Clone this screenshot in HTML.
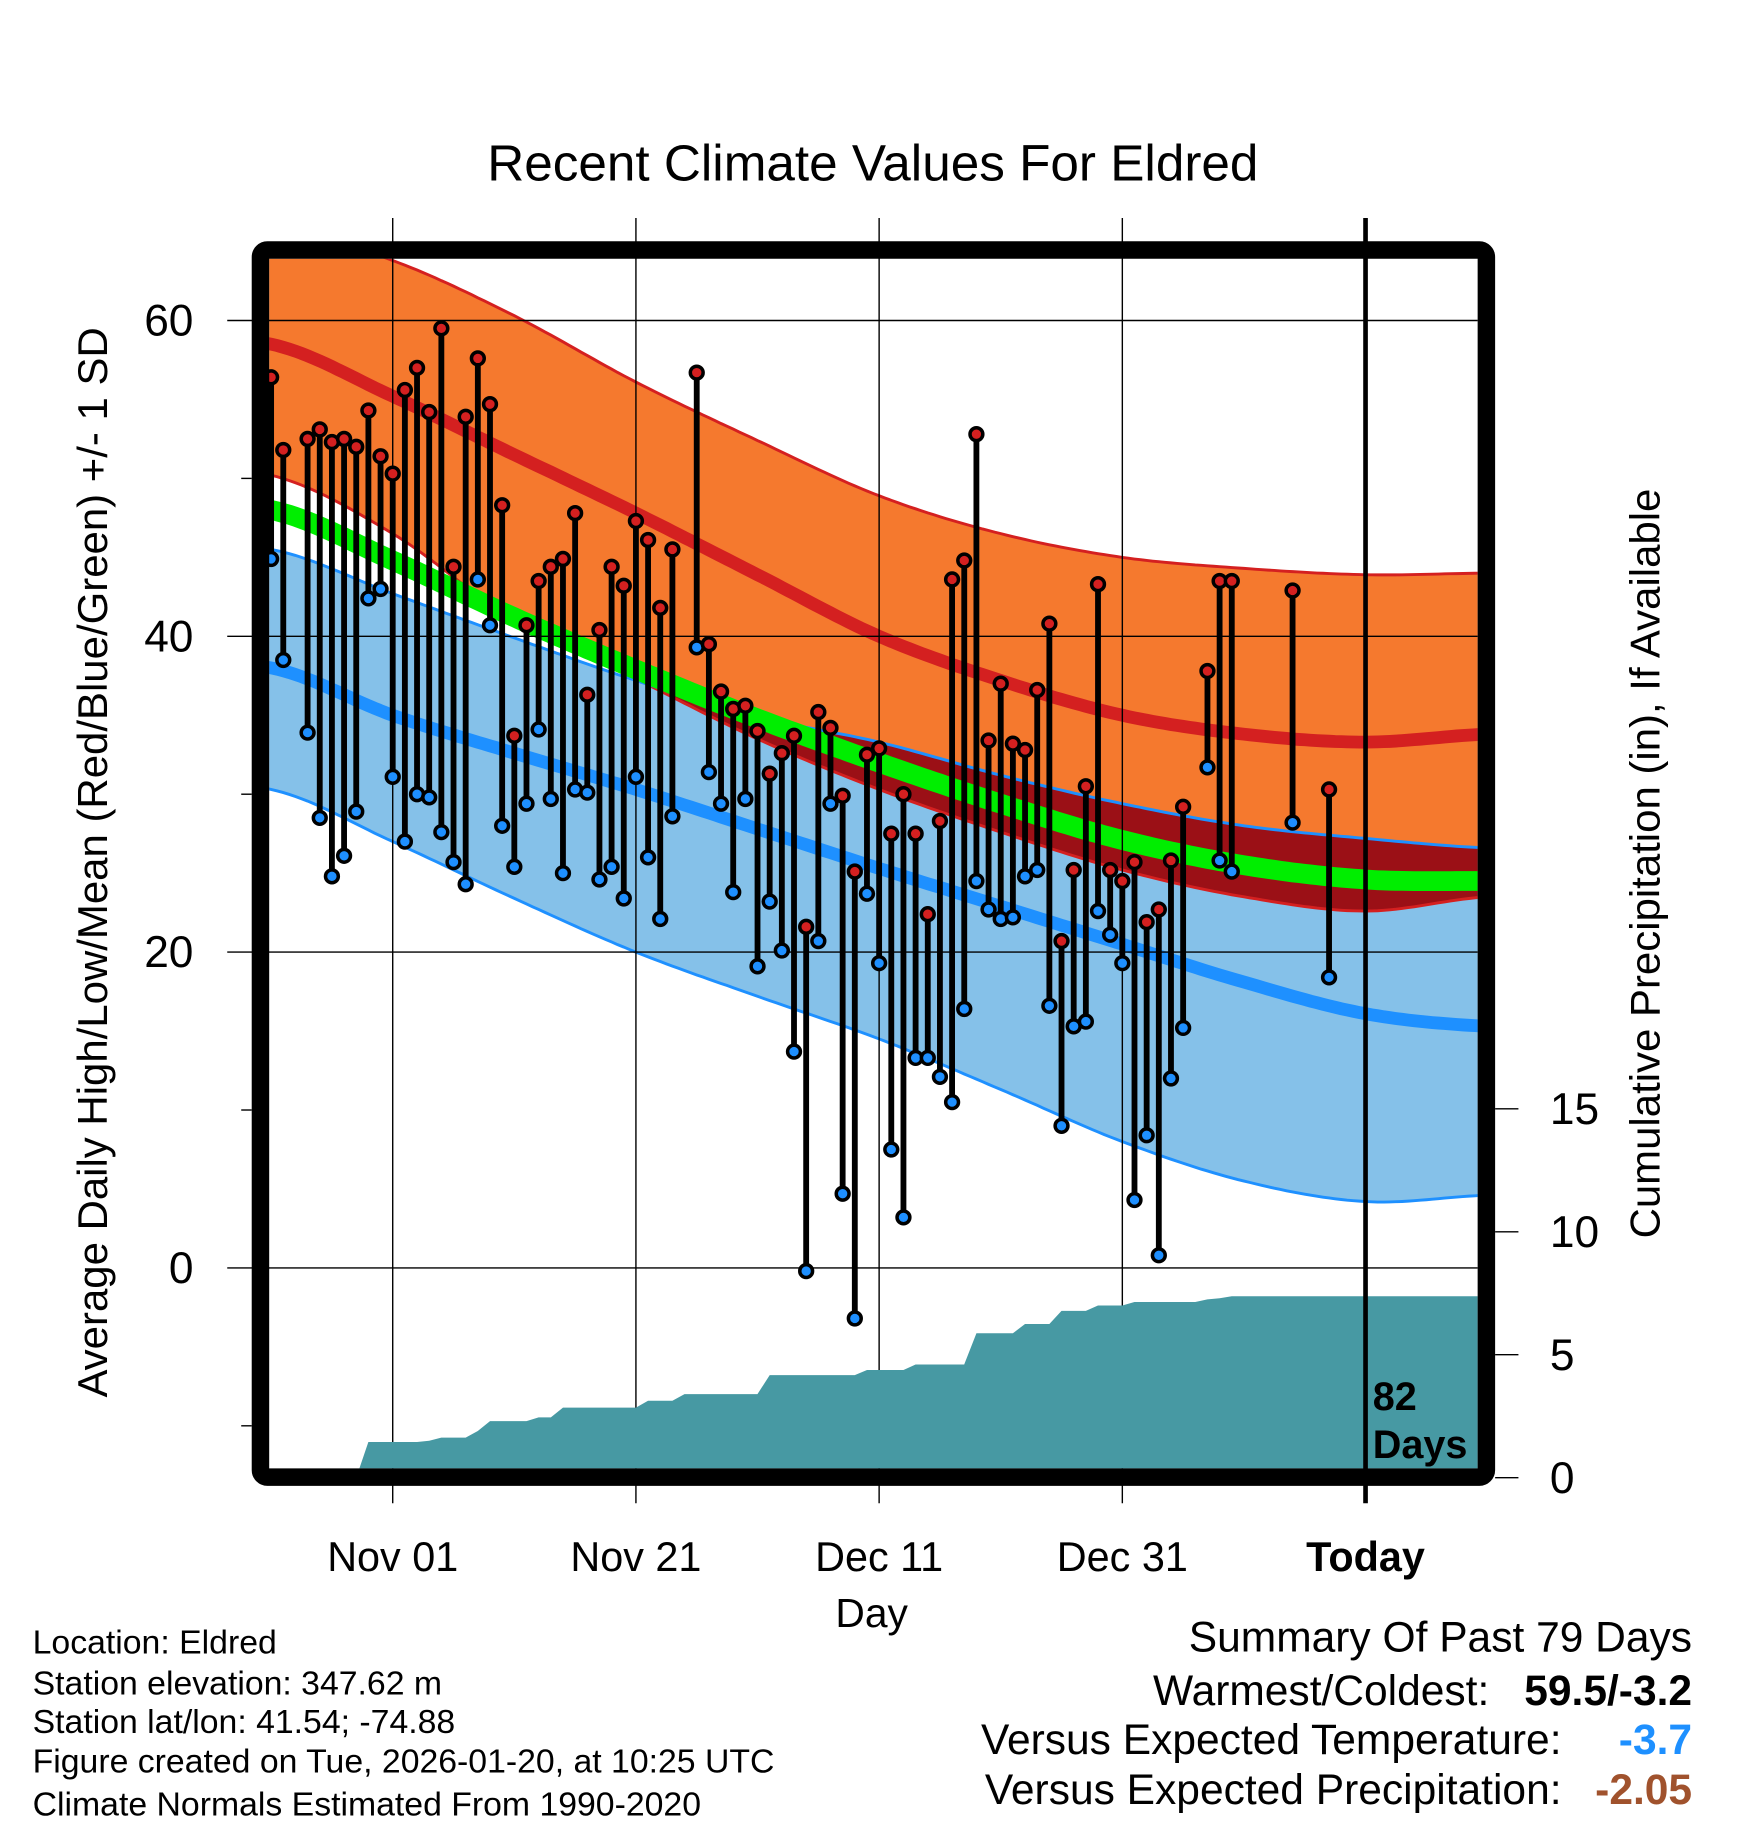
<!DOCTYPE html>
<html><head><meta charset="utf-8"><style>
html,body{margin:0;padding:0;background:#fff}
svg{display:block}
text{font-family:"Liberation Sans",sans-serif}
</style></head><body>
<svg id="chart" width="1748" height="1828" viewBox="0 0 1500 1568.6" xmlns="http://www.w3.org/2000/svg">
<defs><clipPath id="plotclip"><rect x="231" y="222" width="1037" height="1038"/></clipPath></defs>
<rect width="1500" height="1568.6" fill="#fff"/>
<text x="749" y="155" font-size="44" text-anchor="middle">Recent Climate Values For Eldred</text>
<g id="bands" clip-path="url(#plotclip)"></g>
<g id="grid"></g>
<g id="precip" clip-path="url(#plotclip)"></g>
<g id="sticks"></g>
<g id="axes"></g>
<rect x="223.5" y="214.5" width="1052" height="1053" rx="6" fill="none" stroke="#000" stroke-width="15"/>
<text x="1178" y="1210" font-size="34" font-weight="bold">82</text>
<text x="1178" y="1251" font-size="34" font-weight="bold">Days</text>
<text transform="translate(92,740) rotate(-90)" font-size="36" text-anchor="middle">Average Daily High/Low/Mean (Red/Blue/Green) +/- 1 SD</text>
<text transform="translate(1424,741) rotate(-90)" font-size="36" text-anchor="middle">Cumulative Precipitation (in), If Available</text>
<text x="748" y="1396" font-size="35" text-anchor="middle">Day</text>
<g font-size="29">
<text x="28" y="1419">Location: Eldred</text>
<text x="28" y="1454">Station elevation: 347.62 m</text>
<text x="28" y="1487">Station lat/lon: 41.54; -74.88</text>
<text x="28" y="1521">Figure created on Tue, 2026-01-20, at 10:25 UTC</text>
<text x="28" y="1558">Climate Normals Estimated From 1990-2020</text>
</g>
<g font-size="36.5">
<text x="1452" y="1417" text-anchor="end">Summary Of Past 79 Days</text>
<text x="1278" y="1463" text-anchor="end">Warmest/Coldest:</text>
<text x="1452" y="1463" text-anchor="end" font-weight="bold">59.5/-3.2</text>
<text x="1340" y="1505" text-anchor="end">Versus Expected Temperature:</text>
<text x="1452" y="1505" text-anchor="end" font-weight="bold" fill="#1E90FF">-3.7</text>
<text x="1340" y="1548" text-anchor="end">Versus Expected Precipitation:</text>
<text x="1452" y="1548" text-anchor="end" font-weight="bold" fill="#A0522D">-2.05</text>
</g>
</svg>
<script>
// ---- data ----
const normDays = [-10,0,10,20,30,40,50,60,70,80,90];
const highPlusSD = [66,63.8,60.3,56.1,52.4,48.9,46.5,45.0,44.3,43.9,44.0];
const meanHigh   = [58.5,55.2,51.5,47.8,43.9,40.0,37.2,35.0,33.8,33.3,33.8];
const highMinusSD= [50.2,46.5,41.0,37.3,33.5,30.3,27.6,25.2,23.5,22.6,23.5];
const lowPlusSD  = [45.5,42.7,39.9,37.2,34.9,33.3,31.2,29.4,28.0,27.2,26.6];
const meanAvg    = [48.0,44.8,41.2,37.9,34.8,32.0,29.4,27.1,25.5,24.6,24.5];
const meanLow    = [38.0,35.0,32.6,30.3,27.8,25.3,22.9,20.5,18.1,16.1,15.3];
const lowMinusSD = [30.3,27.0,23.4,20.0,17.2,14.5,11.3,8.0,5.5,4.2,4.6];

const obsDays = [-10,-9,-7,-6,-5,-4,-3,-2,-1,0,1,2,3,4,5,6,7,8,9,10,11,12,13,14,15,16,17,18,19,20,21,22,23,25,26,27,28,29,30,31,32,33,34,35,36,37,38,39,40,41,42,43,44,45,46,47,48,49,50,51,52,53,54,55,56,57,58,59,60,61,62,63,64,65,67,68,69,74,77];
const obsHigh = [56.4,51.8,52.5,53.1,52.3,52.5,52.0,54.3,51.4,50.3,55.6,57.0,54.2,59.5,44.4,53.9,57.6,54.7,48.3,33.7,40.7,43.5,44.4,44.9,47.8,36.3,40.4,44.4,43.2,47.3,46.1,41.8,45.5,56.7,39.5,36.5,35.4,35.6,34.0,31.3,32.6,33.7,21.6,35.2,34.2,29.9,25.1,32.5,32.9,27.5,30.0,27.5,22.4,28.3,43.6,44.8,52.8,33.4,37.0,33.2,32.8,36.6,40.8,20.7,25.2,30.5,43.3,25.2,24.5,25.7,21.9,22.7,25.8,29.2,37.8,43.5,43.5,42.9,30.3];
const obsLow = [44.9,38.5,33.9,28.5,24.8,26.1,28.9,42.4,43.0,31.1,27.0,30.0,29.8,27.6,25.7,24.3,43.6,40.7,28.0,25.4,29.4,34.1,29.7,25.0,30.3,30.1,24.6,25.4,23.4,31.1,26.0,22.1,28.6,39.3,31.4,29.4,23.8,29.7,19.1,23.2,20.1,13.7,-0.2,20.7,29.4,4.7,-3.2,23.7,19.3,7.5,3.2,13.3,13.3,12.1,10.5,16.4,24.5,22.7,22.1,22.2,24.8,25.2,16.6,9.0,15.3,15.6,22.6,21.1,19.3,4.3,8.4,0.8,12.0,15.2,31.7,25.8,25.1,28.2,18.4];

const precipDays = [-10,-3,-2,2,3,4,6,7,8,11,12,13,14,20,21,23,24,30,31,38,39,42,43,47,48,51,52,54,55,57,58,60,61,66,67,68,69,80,90];
const precipCum  = [0,0,1.45,1.45,1.5,1.63,1.63,1.9,2.3,2.3,2.45,2.45,2.85,2.85,3.13,3.13,3.4,3.4,4.17,4.17,4.38,4.38,4.6,4.6,5.87,5.87,6.25,6.25,6.78,6.78,7.0,7.0,7.14,7.14,7.25,7.3,7.38,7.38,7.38];

const yTicks = [60,40,20,0];
const yMinor = [50,30,10,-10];
const pTicks = [0,5,10,15];
const xTickDays = [0,20,40,60,80];
const xTickLabels = ["Nov 01","Nov 21","Dec 11","Dec 31","Today"];

// ---- axes ----
const xS = d => 337 + d*10.435;
const yS = v => 1088 - v*13.55;
const pS = p => 1268 - p*21.1;
const NS = "http://www.w3.org/2000/svg";
function mk(tag, attrs, parent){const e=document.createElementNS(NS,tag);for(const k in attrs)e.setAttribute(k,attrs[k]);parent.appendChild(e);return e;}

function interp(arr, d){
  let i=0; while(i<normDays.length-2 && d>normDays[i+1]) i++;
  const p0=arr[Math.max(i-1,0)],p1=arr[i],p2=arr[i+1],p3=arr[Math.min(i+2,arr.length-1)];
  const t=(d-normDays[i])/(normDays[i+1]-normDays[i]);
  return 0.5*((2*p1)+(-p0+p2)*t+(2*p0-5*p1+4*p2-p3)*t*t+(-p0+3*p1-3*p2+p3)*t*t*t);
}
const samp=[]; for(let d=-11; d<=90; d+=0.5) samp.push(d);
const curve = arr => samp.map(d=>[xS(d), yS(interp(arr,d))]);
const pts = a => a.map(p=>p[0].toFixed(1)+','+p[1].toFixed(1)).join(' ');

const bands=document.getElementById('bands');
const hT=curve(highPlusSD), hB=curve(highMinusSD), lT=curve(lowPlusSD), lB=curve(lowMinusSD);
let e;
e=mk('polygon',{points:pts(hT.concat(hB.slice().reverse())),fill:'#F5792E'},bands);
 
e=mk('polygon',{points:pts(lT.concat(lB.slice().reverse())),fill:'#85C1E9'},bands);
 
const ovB = samp.map((d,i)=>[xS(d), Math.max(hB[i][1], lT[i][1])]);
e=mk('polygon',{points:pts(lT.concat(ovB.slice().reverse())),fill:'#9B1016'},bands);
 
[[hT,'#D42020','high-sd-upper-edge'],[hB,'#D42020','high-sd-lower-edge'],[lT,'#1E90FF','low-sd-upper-edge'],[lB,'#1E90FF','low-sd-lower-edge']].forEach(c=>{
  e=mk('polyline',{points:pts(c[0]),fill:'none',stroke:c[1],'stroke-width':2.5},bands);
   
});
e=mk('polyline',{points:pts(curve(meanAvg)),fill:'none',stroke:'#00EE00','stroke-width':17},bands);
 
e=mk('polyline',{points:pts(curve(meanHigh)),fill:'none',stroke:'#D42020','stroke-width':11},bands);
 
e=mk('polyline',{points:pts(curve(meanLow)),fill:'none',stroke:'#1E90FF','stroke-width':11},bands);
 

// grid
const grid=document.getElementById('grid');
yTicks.forEach(v=>{
  e=mk('line',{x1:195,x2:1268,y1:yS(v),y2:yS(v),stroke:'#000','stroke-width':1.2},grid);
   
});
yMinor.forEach(v=>{
  e=mk('line',{x1:207,x2:216,y1:yS(v),y2:yS(v),stroke:'#000','stroke-width':1.2},grid);
   
});
xTickDays.forEach((d,i)=>{
  if(i<4){
    e=mk('line',{x1:xS(d),x2:xS(d),y1:187,y2:1290,stroke:'#000','stroke-width':1.2},grid);
     
  }
});

// precip
const pr=document.getElementById('precip');
const pp=precipDays.map((d,i)=>[xS(d),pS(precipCum[i])]);
pp.push([xS(90),1270]); pp.push([xS(-10),1270]);
e=mk('polygon',{points:pts(pp),fill:'#4799A3'},pr);
 

// sticks
const st=document.getElementById('sticks');
obsDays.forEach((d,i)=>{
  const x=xS(d);
  e=mk('line',{x1:x,x2:x,y1:yS(obsHigh[i]),y2:yS(obsLow[i]),stroke:'#000','stroke-width':5},st);
   
});
obsDays.forEach((d,i)=>{
  const x=xS(d);
  e=mk('circle',{cx:x,cy:yS(obsHigh[i]),r:5.5,fill:'#D42020',stroke:'#000','stroke-width':3},st);
   
  e=mk('circle',{cx:x,cy:yS(obsLow[i]),r:5.5,fill:'#1E8FFF',stroke:'#000','stroke-width':3},st);
   
});

// axes labels
const ax=document.getElementById('axes');
e=mk('line',{x1:xS(80),x2:xS(80),y1:187,y2:1290,stroke:'#000','stroke-width':4},ax);
 
yTicks.forEach(v=>{
  e=mk('text',{x:166,y:yS(v)+13,'font-size':38,'text-anchor':'end'},ax); e.textContent=v;
   
});
pTicks.forEach(p=>{
  e=mk('line',{x1:1283,x2:1303,y1:pS(p),y2:pS(p),stroke:'#000','stroke-width':1.2},ax);
   
  e=mk('text',{x:1330,y:pS(p)+13,'font-size':38},ax); e.textContent=p;
   
});
xTickDays.forEach((d,i)=>{
  e=mk('text',{x:xS(d),y:1348,'font-size':35.5,'text-anchor':'middle','font-weight':i==4?'bold':'normal'},ax);
  e.textContent=xTickLabels[i];
   
});
</script>
</body></html>
